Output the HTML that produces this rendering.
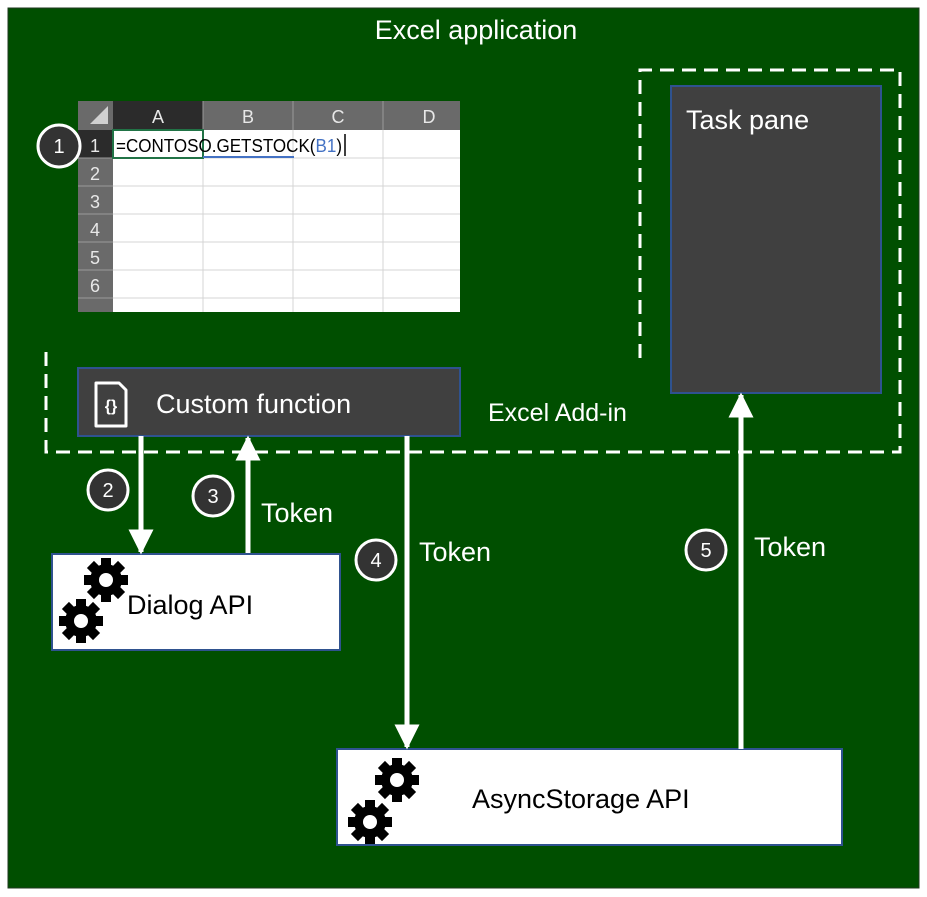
<!DOCTYPE html>
<html><head><style>body{margin:0;background:#fff}svg{display:block}text{font-family:"Liberation Sans",sans-serif}</style></head><body>
<svg width="927" height="897" viewBox="0 0 927 897" xmlns="http://www.w3.org/2000/svg">
<defs>
<g id="gear">
<g fill="#000">
<circle r="16"/>
<rect x="-5" y="-22" width="10" height="44"/>
<rect x="-5" y="-22" width="10" height="44" transform="rotate(45)"/>
<rect x="-5" y="-22" width="10" height="44" transform="rotate(90)"/>
<rect x="-5" y="-22" width="10" height="44" transform="rotate(135)"/>
</g>
<circle r="7" fill="#fff"/>
</g>
<marker id="ah" viewBox="0 0 10 10" refX="9" refY="5" markerWidth="5" markerHeight="5" orient="auto" markerUnits="strokeWidth"><path d="M0,0 L10,5 L0,10z" fill="#fff"/></marker>
</defs>
<rect x="8" y="8" width="911" height="880" fill="#004f00" stroke="#1f3a1f" stroke-width="1"/>
<text x="476" y="39" font-size="27" fill="#fff" text-anchor="middle">Excel application</text>
<rect x="78" y="101" width="382" height="211" fill="#fff"/>
<rect x="78" y="101" width="382" height="29" fill="#6a6a6a"/>
<rect x="113" y="101" width="90" height="29" fill="#2b2b2b"/>
<rect x="78" y="130" width="35" height="182" fill="#6a6a6a"/>
<rect x="78" y="130" width="35" height="28" fill="#2b2b2b"/>
<path d="M108,106 L108,124 L90,124z" fill="#d0d0d0"/>
<g stroke="#d4d4d4" stroke-width="1">
<line x1="203" y1="130" x2="203" y2="312"/><line x1="293" y1="130" x2="293" y2="312"/><line x1="383" y1="130" x2="383" y2="312"/>
<line x1="113" y1="186" x2="460" y2="186"/><line x1="113" y1="214" x2="460" y2="214"/><line x1="113" y1="242" x2="460" y2="242"/><line x1="113" y1="270" x2="460" y2="270"/><line x1="113" y1="298" x2="460" y2="298"/>
<line x1="113" y1="158" x2="460" y2="158"/>
</g>
<g stroke="#999" stroke-width="1">
<line x1="203" y1="101" x2="203" y2="130"/><line x1="293" y1="101" x2="293" y2="130"/><line x1="383" y1="101" x2="383" y2="130"/>
<line x1="78" y1="158" x2="113" y2="158"/><line x1="78" y1="186" x2="113" y2="186"/><line x1="78" y1="214" x2="113" y2="214"/><line x1="78" y1="242" x2="113" y2="242"/><line x1="78" y1="270" x2="113" y2="270"/><line x1="78" y1="298" x2="113" y2="298"/>
</g>
<g font-size="18" fill="#e8e8e8" text-anchor="middle">
<text x="158" y="123">A</text><text x="248" y="123">B</text><text x="338" y="123">C</text><text x="429" y="123">D</text>
<text x="95" y="152">1</text><text x="95" y="180">2</text><text x="95" y="208">3</text><text x="95" y="236">4</text><text x="95" y="264">5</text><text x="95" y="292">6</text>
</g>
<rect x="113" y="130" width="90" height="28" fill="none" stroke="#217346" stroke-width="2"/>
<text x="116" y="152" font-size="18" fill="#000" textLength="226" lengthAdjust="spacingAndGlyphs">=CONTOSO.GETSTOCK(<tspan fill="#4472c4">B1</tspan>)</text>
<line x1="345" y1="134" x2="345" y2="156" stroke="#000" stroke-width="1.5"/>
<line x1="203" y1="157" x2="294" y2="157" stroke="#4472c4" stroke-width="2"/>
<path d="M46,352 L46,452 L900,452 L900,70 L640,70 L640,360" fill="none" stroke="#fff" stroke-width="3" stroke-dasharray="14,8"/>
<rect x="78" y="368" width="382" height="68" fill="#404040" stroke="#2f528f" stroke-width="2"/>
<path d="M96,383 L119,383 L126,390 L126,426 L96,426z" fill="none" stroke="#fff" stroke-width="3" stroke-linejoin="round"/>
<text x="111" y="411" font-size="16" font-weight="bold" fill="#fff" text-anchor="middle">{}</text>
<text x="156" y="413" font-size="27" fill="#fff">Custom function</text>
<text x="488" y="421" font-size="25" fill="#fff">Excel Add-in</text>
<rect x="671" y="86" width="210" height="307" fill="#404040" stroke="#2f528f" stroke-width="2"/>
<text x="686" y="129" font-size="27" fill="#fff">Task pane</text>
<rect x="52" y="554" width="288" height="96" fill="#fff" stroke="#2f528f" stroke-width="2"/>
<use href="#gear" x="106" y="580"/>
<use href="#gear" x="81" y="621"/>
<text x="127" y="614" font-size="27" fill="#000">Dialog API</text>
<rect x="337" y="749" width="505" height="96" fill="#fff" stroke="#2f528f" stroke-width="2"/>
<use href="#gear" x="397" y="780"/>
<use href="#gear" x="370" y="822"/>
<text x="472" y="808" font-size="27" fill="#000">AsyncStorage API</text>
<g stroke="#fff" stroke-width="5" marker-end="url(#ah)">
<line x1="141" y1="436" x2="141" y2="552"/>
<line x1="248" y1="553" x2="248" y2="438"/>
<line x1="407" y1="436" x2="407" y2="747"/>
<line x1="741" y1="749" x2="741" y2="395"/>
</g>
<g font-size="27" fill="#fff">
<text x="261" y="522">Token</text><text x="419" y="561">Token</text><text x="754" y="556">Token</text>
</g>
<g fill="#333" stroke="#fff" stroke-width="3">
<circle cx="59" cy="146" r="21"/><circle cx="108" cy="490" r="20"/><circle cx="213" cy="496" r="20"/><circle cx="376" cy="560" r="20"/><circle cx="706" cy="550" r="20"/>
</g>
<g font-size="20" fill="#fff" text-anchor="middle">
<text x="59" y="153">1</text><text x="108" y="497">2</text><text x="213" y="503">3</text><text x="376" y="567">4</text><text x="706" y="557">5</text>
</g>
</svg>
</body></html>
